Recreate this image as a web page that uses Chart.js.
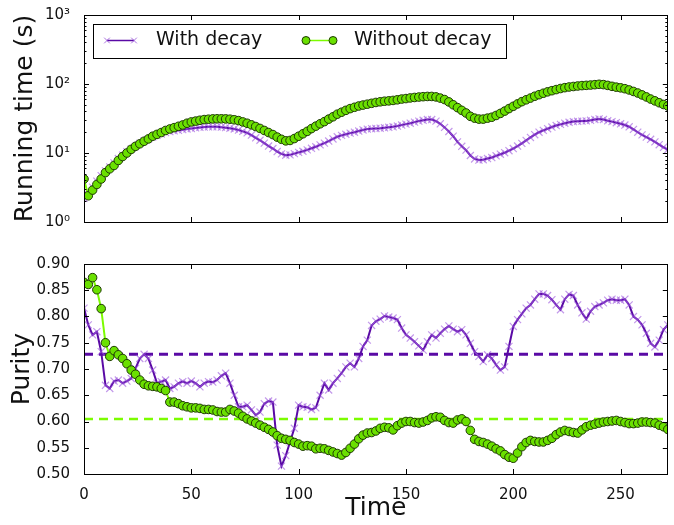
<!DOCTYPE html>
<html>
<head>
<meta charset="utf-8">
<script src="https://cdn.jsdelivr.net/npm/chart.js@4.4.1/dist/chart.umd.min.js"></script>
<style>
  html, body { margin: 0; padding: 0; background: #fff; }
  #wrap { position: relative; width: 674px; height: 525px; }
  #top { position: absolute; left: 0; top: 0; }
  #bottom { position: absolute; left: 0; top: 240px; }
</style>
</head>
<body>
<div id="wrap">
  <canvas id="top" width="674" height="240"></canvas>
  <canvas id="bottom" width="674" height="285"></canvas>
</div>
<script>
// time steps (sampled every 2 units)
const times = [
  0,2,4,6,8,10,12,14,16,18,
  20,22,24,26,28,30,32,34,36,38,
  40,42,44,46,48,50,52,54,56,58,
  60,62,64,66,68,70,72,74,76,78,
  80,82,84,86,88,90,92,94,96,98,
  100,102,104,106,108,110,112,114,116,118,
  120,122,124,126,128,130,132,134,136,138,
  140,142,144,146,148,150,152,154,156,158,
  160,162,164,166,168,170,172,174,176,178,
  180,182,184,186,188,190,192,194,196,198,
  200,202,204,206,208,210,212,214,216,218,
  220,222,224,226,228,230,232,234,236,238,
  240,242,244,246,248,250,252,254,256,258,
  260,262,264,266,268,270,272
];

// running time (s), with decay
const runDecay = [
  2.2,2.5,3.2,3.9,4.7,5.5,6.3,7.2,8.3,9.3,
  10.4,11.4,12.4,13.8,15.0,16.0,17.1,18.0,18.9,19.8,
  20.4,20.9,21.3,21.8,22.3,22.7,23.1,23.5,23.8,24.0,
  24.0,24.0,23.7,23.3,22.9,22.3,21.5,20.6,19.6,18.2,
  16.6,15.3,13.9,12.6,11.6,10.5,9.7,9.3,9.4,9.8,
  10.2,10.6,11.1,11.7,12.3,13.1,13.9,14.9,16.0,17.2,
  18.0,18.7,19.4,20.0,20.8,21.6,22.2,22.5,22.7,22.9,
  23.2,23.6,24.0,24.6,25.4,26.2,27.0,28.0,29.0,29.8,
  30.5,30.5,29.0,26.5,23.5,20.5,17.5,14.5,12.5,11.0,
  9.2,8.2,7.9,8.0,8.3,8.6,9.1,9.6,10.1,10.8,
  11.6,12.6,13.8,15.2,16.8,18.4,20.0,21.3,22.5,23.8,
  25.0,26.0,27.0,27.9,28.5,28.8,29.0,29.2,29.8,30.6,
  31.2,30.5,29.3,28.5,27.5,26.5,25.4,24.0,22.0,20.0,
  18.3,17.0,15.8,14.5,13.2,12.1,11.2
];

// running time (s), without decay
const runNoDecay = [
  4.2,2.4,2.9,3.5,4.2,5.2,5.9,6.6,7.8,8.9,
  10.0,11.3,12.5,13.6,14.8,16.0,17.5,18.6,19.8,21.2,
  22.3,23.3,24.4,25.5,27.0,28.2,29.0,29.8,30.5,30.9,
  31.2,31.3,31.3,31.2,30.9,30.3,29.5,28.2,27.0,25.6,
  24.2,22.7,21.2,19.8,18.5,17.0,15.8,15.0,15.2,16.2,
  17.5,19.0,20.6,22.6,24.5,26.5,28.5,31.0,33.5,36.5,
  39.0,41.5,44.0,46.0,48.0,49.5,51.0,52.5,54.0,55.2,
  56.3,57.0,57.8,59.0,60.5,61.5,62.8,63.8,64.7,65.5,
  66.0,66.0,65.0,62.5,59.5,55.0,50.0,45.5,41.5,38.0,
  34.0,32.0,31.0,31.0,32.0,33.0,35.0,37.5,40.5,44.0,
  47.5,51.5,55.5,59.0,62.5,66.5,70.0,73.5,77.0,80.0,
  83.0,86.0,88.5,90.5,92.0,93.5,94.8,95.6,96.5,97.8,
  99.0,98.0,95.5,92.5,90.0,88.0,85.5,82.0,78.0,74.0,
  69.5,65.0,60.5,57.0,53.5,50.5,48.0
];

// purity, with decay
const purDecay = [
  0.816,0.784,0.765,0.771,0.733,0.669,0.663,0.677,0.679,0.673,
  0.677,0.682,0.701,0.720,0.728,0.720,0.698,0.673,0.676,0.679,
  0.663,0.666,0.673,0.676,0.673,0.677,0.673,0.666,0.673,0.676,
  0.675,0.679,0.687,0.692,0.673,0.650,0.628,0.628,0.631,0.622,
  0.612,0.618,0.634,0.639,0.637,0.555,0.515,0.535,0.561,0.587,
  0.631,0.628,0.627,0.623,0.626,0.650,0.673,0.660,0.673,0.682,
  0.692,0.704,0.711,0.704,0.720,0.743,0.755,0.783,0.791,0.795,
  0.801,0.799,0.797,0.794,0.778,0.765,0.759,0.752,0.744,0.736,
  0.752,0.765,0.759,0.768,0.776,0.782,0.776,0.771,0.775,0.765,
  0.749,0.733,0.724,0.714,0.727,0.720,0.708,0.698,0.704,0.743,
  0.781,0.794,0.805,0.816,0.822,0.833,0.843,0.843,0.840,0.832,
  0.822,0.813,0.833,0.842,0.840,0.822,0.807,0.795,0.810,0.819,
  0.822,0.826,0.831,0.833,0.831,0.831,0.833,0.822,0.800,0.794,
  0.784,0.768,0.749,0.742,0.755,0.775,0.784
];

// purity, without decay
const purNoDecay = [
  0.865,0.861,0.874,0.851,0.815,0.750,0.724,0.735,0.727,0.720,
  0.710,0.698,0.690,0.679,0.671,0.668,0.667,0.666,0.663,0.659,
  0.637,0.637,0.634,0.630,0.628,0.626,0.626,0.625,0.623,0.623,
  0.622,0.619,0.618,0.618,0.623,0.620,0.616,0.610,0.605,0.601,
  0.597,0.593,0.589,0.585,0.580,0.573,0.568,0.566,0.564,0.560,
  0.557,0.553,0.554,0.553,0.548,0.549,0.548,0.545,0.542,0.539,
  0.536,0.541,0.549,0.557,0.567,0.574,0.578,0.579,0.582,0.587,
  0.589,0.588,0.584,0.592,0.597,0.600,0.600,0.598,0.597,0.599,
  0.602,0.607,0.609,0.608,0.602,0.598,0.597,0.603,0.605,0.600,
  0.583,0.566,0.562,0.560,0.557,0.553,0.548,0.544,0.537,0.532,
  0.530,0.540,0.552,0.560,0.564,0.562,0.561,0.561,0.564,0.568,
  0.575,0.580,0.583,0.581,0.579,0.578,0.584,0.590,0.593,0.595,
  0.597,0.599,0.600,0.601,0.602,0.600,0.598,0.596,0.596,0.597,
  0.599,0.599,0.598,0.597,0.593,0.590,0.585
];

// mean purity lines
const meanDecay = 0.728;
const meanNoDecay = 0.605;

const xMin = 0, xMax = 272;
const xTicks = [0, 50, 100, 150, 200, 250];
const logTicks = [1, 10, 100, 1000];
const supers = { 1: '10\u2070', 10: '10\u00b9', 100: '10\u00b2', 1000: '10\u00b3' };
const seriesNames = ['With decay', 'Without decay'];

const PURPLE = '#5a0aa5';
const PURPLE_MARK = 'rgba(155, 85, 220, 0.6)';
const GREEN = '#7cfc00';
const GREEN_FILL = '#6ae000';
const GREEN_EDGE = '#1f3a05';
const FONT = "'DejaVu Sans', sans-serif";

const pairs = (ys) => times.map((t, i) => ({ x: t, y: ys[i] }));

function decayStyle(ys) {
  return {
    data: pairs(ys), borderColor: PURPLE, borderWidth: 2, tension: 0,
    pointStyle: 'crossRot', pointRadius: 5, pointBorderColor: PURPLE_MARK,
    pointBackgroundColor: PURPLE_MARK, pointBorderWidth: 1.2, clip: 0
  };
}
function noDecayStyle(ys) {
  return {
    data: pairs(ys), borderColor: GREEN, borderWidth: 2, tension: 0,
    pointStyle: 'circle', pointRadius: 4.3, pointBorderColor: GREEN_EDGE,
    pointBackgroundColor: GREEN_FILL, pointBorderWidth: 1, clip: 0
  };
}

// inward tick marks on all four sides + box around the plot area
const axesFrame = {
  id: 'axesFrame',
  afterDatasetsDraw(chart) {
    const { ctx, chartArea: a, scales } = chart;
    ctx.save();
    ctx.strokeStyle = '#000';
    ctx.lineWidth = 1;
    ctx.beginPath();
    xTicks.forEach(v => {
      const px = Math.round(scales.x.getPixelForValue(v)) + 0.5;
      ctx.moveTo(px, a.bottom); ctx.lineTo(px, a.bottom - 5);
      ctx.moveTo(px, a.top); ctx.lineTo(px, a.top + 5);
    });
    const ys = scales.y;
    ys.ticks.forEach(t => {
      const py = Math.round(ys.getPixelForValue(t.value)) + 0.5;
      ctx.moveTo(a.left, py); ctx.lineTo(a.left + 5, py);
      ctx.moveTo(a.right, py); ctx.lineTo(a.right - 5, py);
    });
    if (ys.type === 'logarithmic') {
      for (let d = 1; d < 1000; d *= 10) {
        for (let m = 2; m < 10; m++) {
          const py = Math.round(ys.getPixelForValue(d * m)) + 0.5;
          ctx.moveTo(a.left, py); ctx.lineTo(a.left + 2.5, py);
          ctx.moveTo(a.right, py); ctx.lineTo(a.right - 2.5, py);
        }
      }
    }
    ctx.stroke();
    ctx.strokeRect(Math.round(a.left) + 0.5, Math.round(a.top) + 0.5,
      Math.round(a.right - a.left) - 1, Math.round(a.bottom - a.top));
    ctx.restore();
  }
};

// matplotlib style legend inside the upper left of the top plot
const legendBox = {
  id: 'legendBox',
  afterDraw(chart) {
    const { ctx, chartArea: a } = chart;
    const h = Chart.helpers;
    const bx = a.left + 9.5, by = a.top + 9.5, cy = a.top + 25.5;
    ctx.save();
    ctx.fillStyle = '#fff';
    ctx.strokeStyle = '#000';
    ctx.lineWidth = 1;
    ctx.fillRect(bx, by, 413, 34);
    ctx.strokeRect(bx, by, 413, 34);

    // with decay
    ctx.strokeStyle = PURPLE;
    ctx.lineWidth = 1.5;
    ctx.beginPath(); ctx.moveTo(a.left + 23, cy); ctx.lineTo(a.left + 50, cy); ctx.stroke();
    ctx.strokeStyle = 'rgba(150, 80, 215, 0.8)';
    ctx.lineWidth = 1;
    [23, 50].forEach(dx => h.drawPoint(ctx, { pointStyle: 'crossRot', radius: 4, borderWidth: 1, rotation: 0 }, a.left + dx, cy));

    // without decay
    ctx.strokeStyle = GREEN;
    ctx.lineWidth = 1.5;
    ctx.beginPath(); ctx.moveTo(a.left + 222, cy); ctx.lineTo(a.left + 249, cy); ctx.stroke();
    ctx.fillStyle = GREEN_FILL;
    ctx.strokeStyle = GREEN_EDGE;
    ctx.lineWidth = 1;
    [222, 249].forEach(dx => h.drawPoint(ctx, { pointStyle: 'circle', radius: 4, borderWidth: 1, rotation: 0 }, a.left + dx, cy));

    ctx.fillStyle = '#111';
    ctx.font = '19px ' + FONT;
    ctx.textBaseline = 'middle';
    ctx.fillText(seriesNames[0], a.left + 72, cy);
    ctx.fillText(seriesNames[1], a.left + 270, cy);
    ctx.restore();
  }
};

Chart.defaults.font.family = FONT;
Chart.defaults.color = '#111';

// top: running time
new Chart(document.getElementById('top'), {
  type: 'line',
  data: {
    datasets: [
      Object.assign({ label: seriesNames[1] }, noDecayStyle(runNoDecay)),
      Object.assign({ label: seriesNames[0] }, decayStyle(runDecay))
    ]
  },
  options: {
    responsive: false,
    animation: false,
    layout: { padding: { top: 13, right: 1, left: 0, bottom: 0 } },
    plugins: { legend: { display: false }, tooltip: { enabled: false } },
    scales: {
      x: {
        type: 'linear', min: xMin, max: xMax,
        grid: { display: false }, border: { display: false },
        ticks: { display: false },
        afterFit: s => { s.height = 18; }
      },
      y: {
        type: 'logarithmic', min: 1, max: 1000,
        grid: { display: false }, border: { display: false },
        afterBuildTicks: s => { s.ticks = logTicks.map(v => ({ value: v })); },
        ticks: {
          font: { size: 15 }, padding: 6, color: '#111',
          callback: v => supers[v] || ''
        },
        title: {
          display: true, text: 'Running time (s)', color: '#111',
          font: { size: 25 }, padding: { top: 10, bottom: 0 }
        },
        afterFit: s => { s.width = 84; }
      }
    }
  },
  plugins: [axesFrame, legendBox]
});

// bottom: purity
new Chart(document.getElementById('bottom'), {
  type: 'line',
  data: {
    datasets: [
      Object.assign({ label: seriesNames[1] }, noDecayStyle(purNoDecay)),
      Object.assign({ label: seriesNames[0] }, decayStyle(purDecay)),
      {
        label: 'mean without decay',
        data: [{ x: xMin, y: meanNoDecay }, { x: xMax, y: meanNoDecay }],
        borderColor: GREEN, borderWidth: 2.5, borderDash: [9, 6], pointRadius: 0, clip: 0
      },
      {
        label: 'mean with decay',
        data: [{ x: xMin, y: meanDecay }, { x: xMax, y: meanDecay }],
        borderColor: PURPLE, borderWidth: 3, borderDash: [9, 6], pointRadius: 0, clip: 0
      }
    ]
  },
  options: {
    responsive: false,
    animation: false,
    layout: { padding: { top: 24, right: 1, left: 0, bottom: 0 } },
    plugins: { legend: { display: false }, tooltip: { enabled: false } },
    scales: {
      x: {
        type: 'linear', min: xMin, max: xMax,
        grid: { display: false }, border: { display: false },
        afterBuildTicks: s => { s.ticks = xTicks.map(v => ({ value: v })); },
        ticks: { font: { size: 15 }, padding: 4, color: '#111', maxRotation: 0 },
        title: {
          display: true, text: 'Time', color: '#111',
          font: { size: 25 }, padding: { top: 0, bottom: 2 }
        },
        afterFit: s => { s.height = 51; }
      },
      y: {
        type: 'linear', min: 0.5, max: 0.9,
        grid: { display: false }, border: { display: false },
        ticks: {
          stepSize: 0.05, font: { size: 15 }, padding: 6, color: '#111',
          callback: v => Number(v).toFixed(2)
        },
        title: {
          display: true, text: 'Purity', color: '#111',
          font: { size: 25 }, padding: { top: 7, bottom: 0 }
        },
        afterFit: s => { s.width = 84; }
      }
    }
  },
  plugins: [axesFrame]
});
</script>
</body>
</html>
